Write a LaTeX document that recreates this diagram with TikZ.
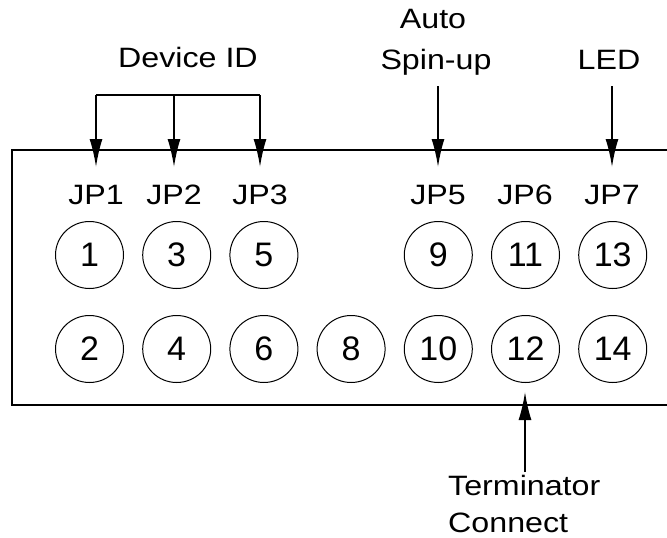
\documentclass[tikz,border=0pt]{standalone}
\usepackage{fontspec}
\setmainfont{Liberation Sans}[FakeStretch=1.15]
\newfontfamily\digitfont{Liberation Sans}
\usetikzlibrary{arrows.meta,shapes.geometric}
\begin{document}
\begin{tikzpicture}[x=1pt,y=-1pt,
  lbl/.style={font=\fontsize{28}{40}\selectfont, inner sep=0pt, anchor=base},
  pin/.style={draw, ellipse, line width=1pt, minimum width=68pt, minimum height=67pt, inner sep=0pt, font=\digitfont\fontsize{34}{40}\selectfont},
  frame/.style={line width=1.8pt},
  arr/.style={line width=1.8pt, -{Latex[length=28pt,width=13pt]}},
  conn/.style={line width=1.8pt}]
\useasboundingbox (0,0) rectangle (667,538);
% board outline (open at right)
\coordinate (ftr) at (667,150);
\coordinate (ftl) at (12,150);
\coordinate (fbl) at (12,405);
\coordinate (fbr) at (667,405);
\draw[frame] (ftr) -- (ftl) -- (fbl) -- (fbr);
% pins
\foreach \n/\x in {1/89.5,3/176.7,5/263.9,9/438.3,11/525.5,13/612.7}
  \node[pin] (p\n) at (\x,255) {\n};
\foreach \n/\x in {2/89.5,4/176.7,6/263.9,8/351.1,10/438.3,12/525.5,14/612.7}
  \node[pin] (p\n) at (\x,349) {\n};
% jumper labels
\node[lbl] (jp1) at (96,204) {JP1};
\node[lbl] (jp2) at (174,204) {JP2};
\node[lbl] (jp3) at (260,204) {JP3};
\node[lbl] (jp5) at (438,204) {JP5};
\node[lbl] (jp6) at (525,204) {JP6};
\node[lbl] (jp7) at (612,204) {JP7};
% callout texts
\node[lbl] (devid) at (188,67) {Device ID};
\node[lbl] (auto) at (433,28) {Auto};
\node[lbl] (spin) at (436,69) {Spin-up};
\node[lbl] (led) at (609,69) {LED};
\node[lbl, anchor=base west] (term) at (448,495) {Terminator};
\node[lbl, anchor=base west] (connect) at (448,532) {Connect};
% arrows
\coordinate (b1) at (96,95);
\coordinate (b2) at (174,95);
\coordinate (b3) at (260,95);
\coordinate (t1) at (96,167);
\coordinate (t2) at (174,167);
\coordinate (t3) at (260,167);
\draw[conn] (b1) -- (b3);
\draw[arr] (b1) -- (t1);
\draw[arr] (b2) -- (t2);
\draw[arr] (b3) -- (t3);
\coordinate (a5s) at (438,86);
\coordinate (a5t) at (438,167);
\draw[arr] (a5s) -- (a5t);
\coordinate (a7s) at (612,86);
\coordinate (a7t) at (612,167);
\draw[arr] (a7s) -- (a7t);
\coordinate (a12s) at (525,472);
\coordinate (a12t) at (525,392);
\draw[arr] (a12s) -- (a12t);
\end{tikzpicture}
\end{document}
